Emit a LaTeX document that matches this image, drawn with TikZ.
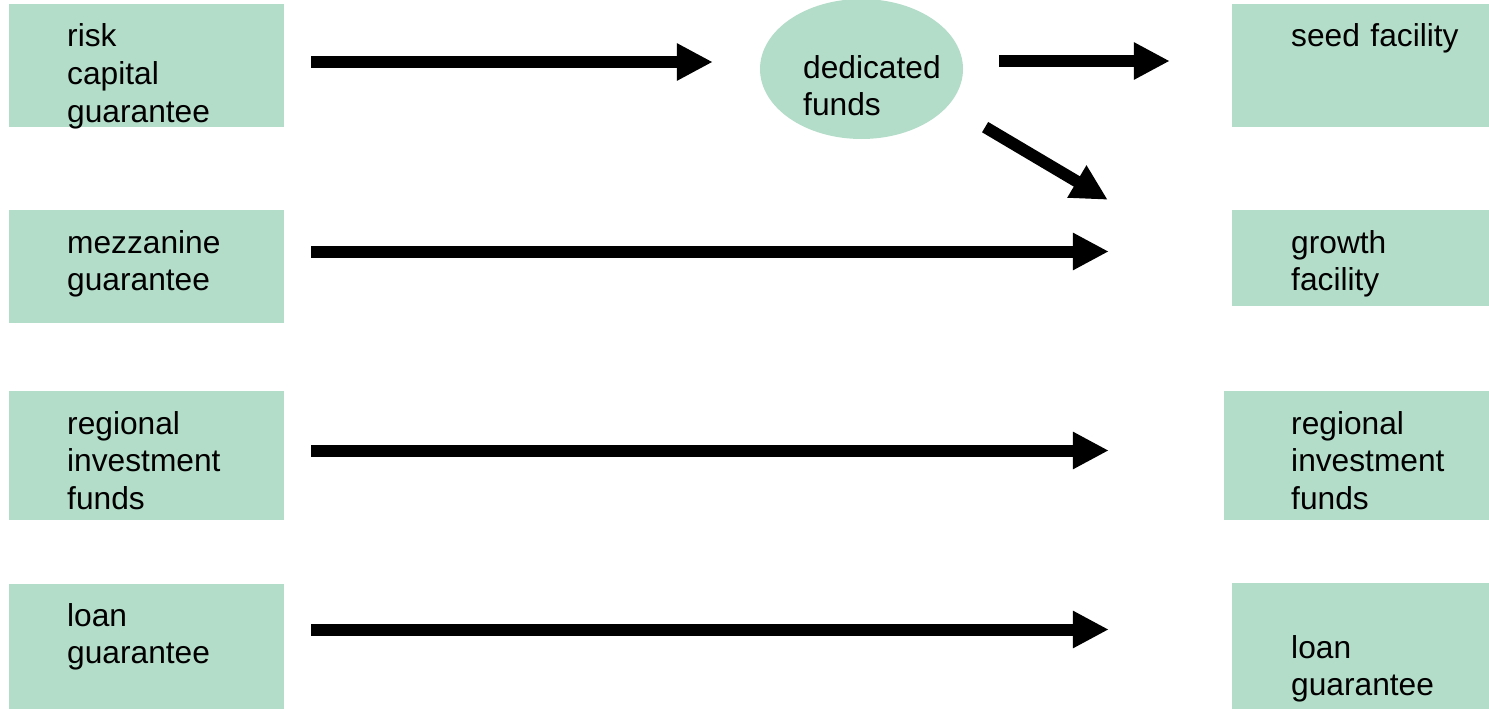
\documentclass[tikz,border=0pt]{standalone}
\usepackage{fontspec}
\setmainfont{Liberation Sans}
\usepackage{xcolor}
\usepackage{tikz}
\usetikzlibrary{arrows.meta,positioning,shapes.geometric}
\definecolor{boxgreen}{RGB}{179,220,201}
\tikzset{
  box/.style={fill=boxgreen, draw=none, inner sep=0pt},
  fundbox/.style={ellipse, fill=boxgreen, draw=none, inner sep=0pt, minimum width=203pt, minimum height=140pt},
  lbl/.style={anchor=base west, inner sep=0pt, align=left, text width=220pt, font=\fontsize{31.7}{37.6}\selectfont},
  flow/.style={line width=12pt, -{Triangle[length=36pt,width=35pt]}}
}

\begin{document}
\begin{tikzpicture}[x=1pt,y=-1pt]
        \useasboundingbox (0,0) rectangle (1489,709);

        \node [box, minimum width=275pt, minimum height=123pt] (risk) at (146.5,65.5) {};
        \node [box, minimum width=275pt, minimum height=113pt] (mezz) at (146.5,266.5) {};
        \node [box, minimum width=275pt, minimum height=129pt] (regl) at (146.5,455.5) {};
        \node [box, minimum width=275pt, minimum height=125pt] (loanl) at (146.5,646.5) {};
        \node [lbl] (risktxt) at (67,47) {risk\\capital\\guarantee};
        \node [lbl] (mezztxt) at (67,253) {mezzanine\\guarantee};
        \node [lbl] (regltxt) at (67,434) {regional\\investment\\funds};
        \node [lbl] (loanltxt) at (67,626) {loan\\guarantee};

        \node [fundbox] (ded) at (861.5,69) {};
        \node [lbl] (dedtxt) at (803,78) {dedicated\\funds};

        \node [box, minimum width=257pt, minimum height=123pt] (seed) at (1360.5,65.5) {};
        \node [box, minimum width=257pt, minimum height=96pt] (growth) at (1360.5,258) {};
        \node [box, minimum width=265pt, minimum height=129pt] (regr) at (1356.5,455.5) {};
        \node [box, minimum width=257pt, minimum height=126pt] (loanr) at (1360.5,646) {};
        \node [lbl] (seedtxt) at (1291,47) {seed facility};
        \node [lbl] (growthtxt) at (1291,253) {growth\\facility};
        \node [lbl] (regrtxt) at (1291,434) {regional\\investment\\funds};
        \node [lbl] (loanrtxt) at (1291,658) {loan\\guarantee};

        \draw [flow, shorten <=27pt, shorten >=47pt] ([yshift=3.5pt]risk.east) -- ([yshift=3.5pt]risk.east -| ded.west);
        \draw [flow, shorten <=36pt, shorten >=62pt] ([yshift=8pt]ded.east) -- ([yshift=8pt]ded.east -| seed.west);
        \draw [flow] ([shift={(51.7pt,-8.5pt)}]ded.south east) -- ([shift={(-124pt,10pt)}]growth.north west);

        \draw [flow, shorten <=27pt, shorten >=123pt] ([yshift=15pt]mezz.east) -- ([yshift=15pt]mezz.east -| growth.west);
        \draw [flow, shorten <=27pt, shorten >=115pt] ([yshift=5pt]regl.east) -- ([yshift=5pt]regl.east -| regr.west);
        \draw [flow, shorten <=27pt, shorten >=123pt] ([yshift=17pt]loanl.east) -- ([yshift=17pt]loanl.east -| loanr.west);
      \end{tikzpicture}
\end{document}
